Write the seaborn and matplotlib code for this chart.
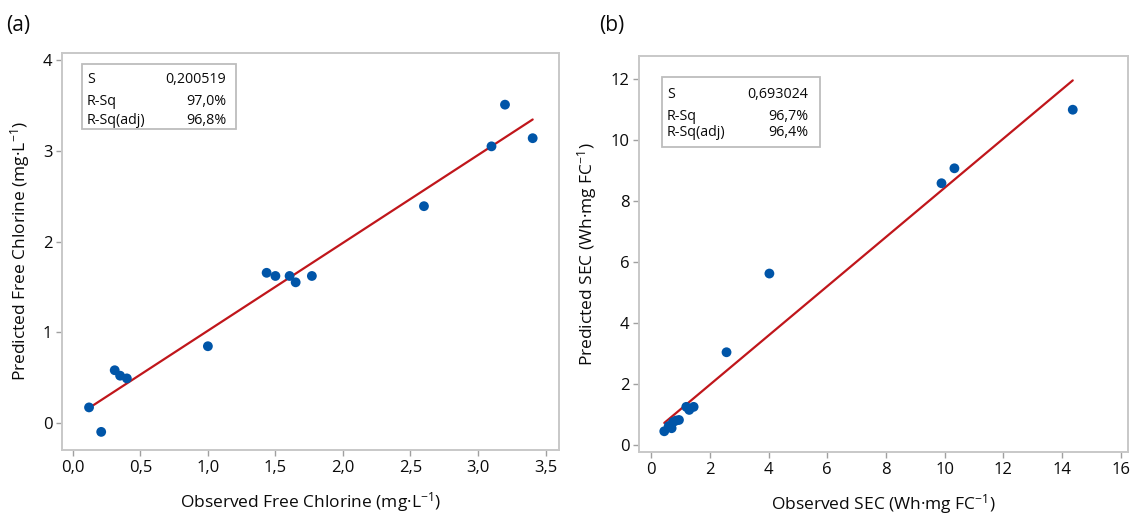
import numpy as np
import pandas as pd
import matplotlib
matplotlib.use("Agg")
import matplotlib.pyplot as plt
import seaborn as sns
from matplotlib.patches import Rectangle
from matplotlib.ticker import FuncFormatter, MultipleLocator

# ---- data ----
fc_observed = [0.12, 0.21, 0.31, 0.35, 0.40, 1.00, 1.435, 1.50, 1.605, 1.65, 1.77, 2.60, 3.10, 3.20, 3.405]
fc_predicted = [0.17, -0.10, 0.58, 0.52, 0.49, 0.845, 1.655, 1.62, 1.62, 1.55, 1.62, 2.39, 3.05, 3.51, 3.14]

sec_observed = [0.45, 0.60, 0.70, 0.75, 0.85, 0.95, 1.20, 1.30, 1.45, 2.57, 4.03, 9.89, 10.33, 14.36]
sec_predicted = [0.45, 0.62, 0.55, 0.75, 0.80, 0.82, 1.25, 1.15, 1.25, 3.04, 5.62, 8.58, 9.07, 10.99]

stats_a = [("S", "0,200519"), ("R-Sq", "97,0%"), ("R-Sq(adj)", "96,8%")]
stats_b = [("S", "0,693024"), ("R-Sq", "96,7%"), ("R-Sq(adj)", "96,4%")]

panel_labels = ["(a)", "(b)"]
xlabels = ["Observed Free Chlorine (mg·L$^{-1}$)", "Observed SEC (Wh·mg FC$^{-1}$)"]
ylabels = ["Predicted Free Chlorine (mg·L$^{-1}$)", "Predicted SEC (Wh·mg FC$^{-1}$)"]

# ---- style ----
sns.set_theme(style="white")
plt.rcParams["font.family"] = ["Open Sans", "DejaVu Sans"]
plt.rcParams["mathtext.fontset"] = "custom"
plt.rcParams["mathtext.rm"] = "Open Sans"
plt.rcParams["mathtext.default"] = "regular"

POINT = "#0055A8"
LINE = "#C0161B"
FRAME = "#C8C8C8"
TXT = "#0A0A0A"

fig = plt.figure(figsize=(11.3, 5.14), dpi=100)
ax_a = fig.add_axes([0.0549, 0.1245, 0.4398, 0.7724])
ax_b = fig.add_axes([0.5655, 0.1206, 0.4327, 0.7704])

df_a = pd.DataFrame({"obs": fc_observed, "pred": fc_predicted})
df_b = pd.DataFrame({"obs": sec_observed, "pred": sec_predicted})

def comma_fmt(dec):
    def f(v, pos):
        s = f"{v:.{dec}f}"
        return s.replace(".", ",")
    return FuncFormatter(f)

configs = [
    (ax_a, df_a, stats_a, (-0.08, 3.60), (-0.30, 4.08), 0.5, 1, 1,
     (0.040, 0.809, 0.310, 0.163), 0.050, 0.330, [0.932, 0.877, 0.831]),
    (ax_b, df_b, stats_b, (-0.41, 16.24), (-0.23, 12.75), 2, 2, 0,
     (0.047, 0.770, 0.323, 0.177), 0.057, 0.346, [0.904, 0.848, 0.806]),
]

for i, (ax, df, stats, xl, yl, xstep, ystep, xdec, box, tl, tr, rows) in enumerate(configs):
    sns.regplot(data=df, x="obs", y="pred", ax=ax, ci=None, scatter=False,
                line_kws=dict(color=LINE, lw=1.6), truncate=True)
    sns.scatterplot(data=df, x="obs", y="pred", ax=ax, color=POINT, s=50,
                    edgecolor="none", linewidth=0, zorder=3)
    ax.set_xlim(*xl)
    ax.set_ylim(*yl)
    ax.xaxis.set_major_locator(MultipleLocator(xstep))
    ax.yaxis.set_major_locator(MultipleLocator(ystep))
    ax.xaxis.set_major_formatter(comma_fmt(xdec))
    ax.yaxis.set_major_formatter(comma_fmt(0))
    for sp in ax.spines.values():
        sp.set_color(FRAME)
        sp.set_linewidth(1.4)
    ax.tick_params(axis="both", which="major", direction="out", length=4, width=1,
                   color="#A0A0A0", labelsize=12, labelcolor=TXT, pad=3,
                   bottom=True, left=True)
    ax.set_xlabel(xlabels[i], fontsize=12.5, color=TXT, labelpad=10)
    ax.set_ylabel(ylabels[i], fontsize=12.5, color=TXT, labelpad=8)

    ax.add_patch(Rectangle((box[0], box[1]), box[2], box[3], transform=ax.transAxes,
                           fill=True, facecolor="white", edgecolor="#BDBDBD", lw=1.3, zorder=4))
    for (k, v), yy in zip(stats, rows):
        ax.text(tl, yy, k, transform=ax.transAxes, ha="left", va="center",
                fontsize=10.3, color=TXT, zorder=5)
        ax.text(tr, yy, v, transform=ax.transAxes, ha="right", va="center",
                fontsize=10.3, color=TXT, zorder=5)

fig.text(18 / 1130, 1 - 25 / 514, panel_labels[0], ha="center", va="center", fontsize=15, color=TXT)
fig.text(612 / 1130, 1 - 25 / 514, panel_labels[1], ha="center", va="center", fontsize=15, color=TXT)

fig.savefig("out.png", dpi=100, facecolor="white")
